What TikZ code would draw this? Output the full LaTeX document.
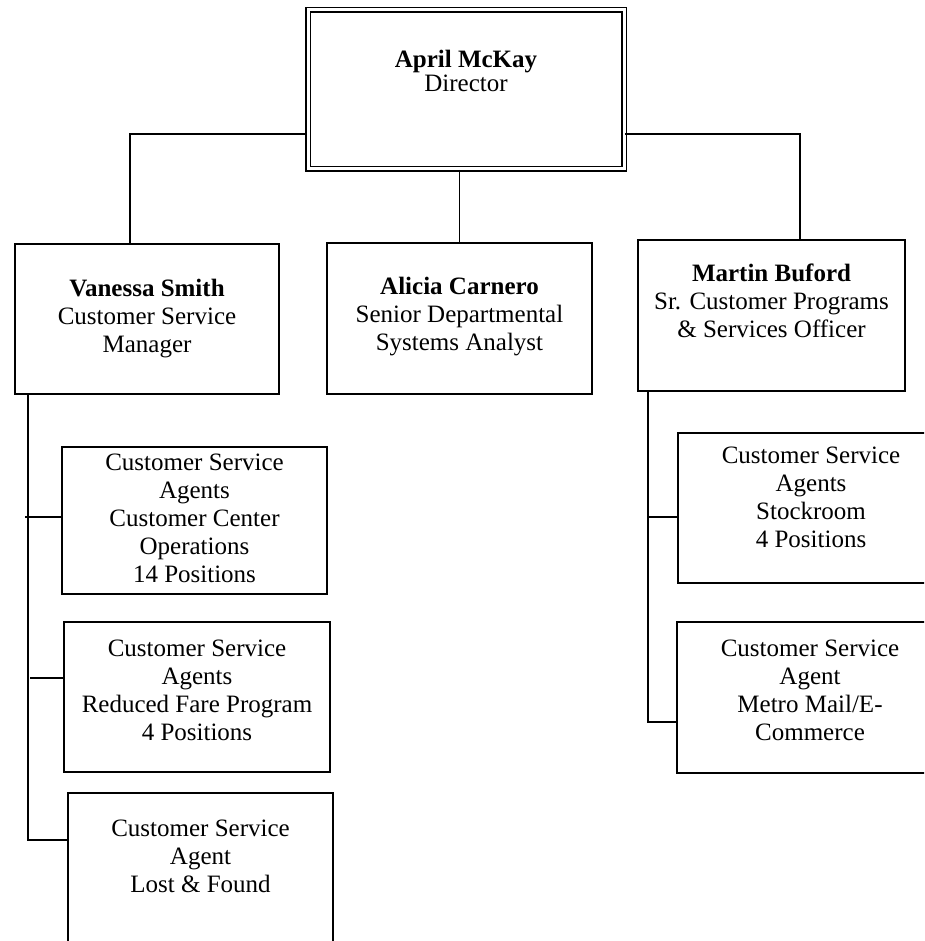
\documentclass[tikz,border=0pt]{standalone}
\usepackage{fontspec}
\setmainfont{Liberation Serif}
\begin{document}
\begin{tikzpicture}[
  x=1pt, y=-1pt,
  unit/.style={draw, line width=1.6pt, inner sep=0pt,
    minimum width=265pt, minimum height=150pt},
  head/.style={unit, double, line width=1.8pt, double distance=3pt,
    minimum width=316pt, minimum height=159pt},
  words/.style={align=center, inner sep=0pt, yshift=#1,
    font=\fontsize{25}{28}\selectfont},
  words/.default=0pt,
  link/.style={line width=1.6pt}
]
\clip (0,0) rectangle (924,941);
% director
\node[head, label={[words=19pt, font=\fontsize{25}{24}\selectfont]center:{\textbf{April McKay}\\Director}}] (april) at (466,89.5) {};
% second row
\node[unit, minimum width=264pt, label={[words]center:{\textbf{Vanessa Smith}\\Customer Service\\Manager}}] (vanessa) at (147,319) {};
\node[unit, minimum height=151pt, label={[words=2pt]center:{\textbf{Alicia Carnero}\\Senior Departmental\\Systems Analyst}}] (alicia) at (459.5,318.5) {};
\node[unit, minimum width=267pt, minimum height=151pt, label={[words=15pt]center:{\textbf{Martin Buford}\\Sr. Customer Programs\\\& Services Officer}}] (martin) at (771.5,315.5) {};
% agents under Vanessa
\node[unit, minimum height=147pt, label={[words=2pt]center:{Customer Service\\Agents\\Customer Center\\Operations\\14 Positions}}] (center) at (194.5,520.5) {};
\node[unit, minimum width=266pt, label={[words=7pt]center:{Customer Service\\Agents\\Reduced Fare Program\\4 Positions}}] (fare) at (197,697) {};
\node[unit, minimum height=157pt, label={[words=15pt]center:{Customer Service\\Agent\\Lost \& Found}}] (lost) at (200.5,871.5) {};
% agents under Martin
\node[unit, minimum width=266pt, label={[words=11pt]center:{Customer Service\\Agents\\Stockroom\\4 Positions}}] (stock) at (811,508) {};
\node[unit, minimum width=266pt, minimum height=151pt, label={[words=7pt]center:{Customer Service\\Agent\\Metro Mail/E-\\Commerce}}] (metro) at (810,697.5) {};
% taps
\coordinate (ltop) at (130,134);
\coordinate (rtop) at (800,134);
\coordinate (l1) at (25,517);
\coordinate (l2) at (30,678);
\coordinate (l3) at (28,840);
\coordinate (r1) at (648,517);
\coordinate (r2) at (648,722);
% connectors
\draw[link] (april.west |- ltop) -- (ltop) -- (vanessa.north -| ltop);
\draw[link] (april.east |- rtop) -- (rtop) -- (martin.north -| rtop);
\draw[link] (april.south -| alicia.north) -- (alicia.north);
\draw[link] (vanessa.south -| l3) -- (l3) -- (l3 -| lost.west);
\draw[link] (l1) -- (l1 -| center.west);
\draw[link] (l2) -- (l2 -| fare.west);
\draw[link] (martin.south -| r2) -- (r2) -- (r2 -| metro.west);
\draw[link] (r1) -- (r1 -| stock.west);
\end{tikzpicture}
\end{document}
